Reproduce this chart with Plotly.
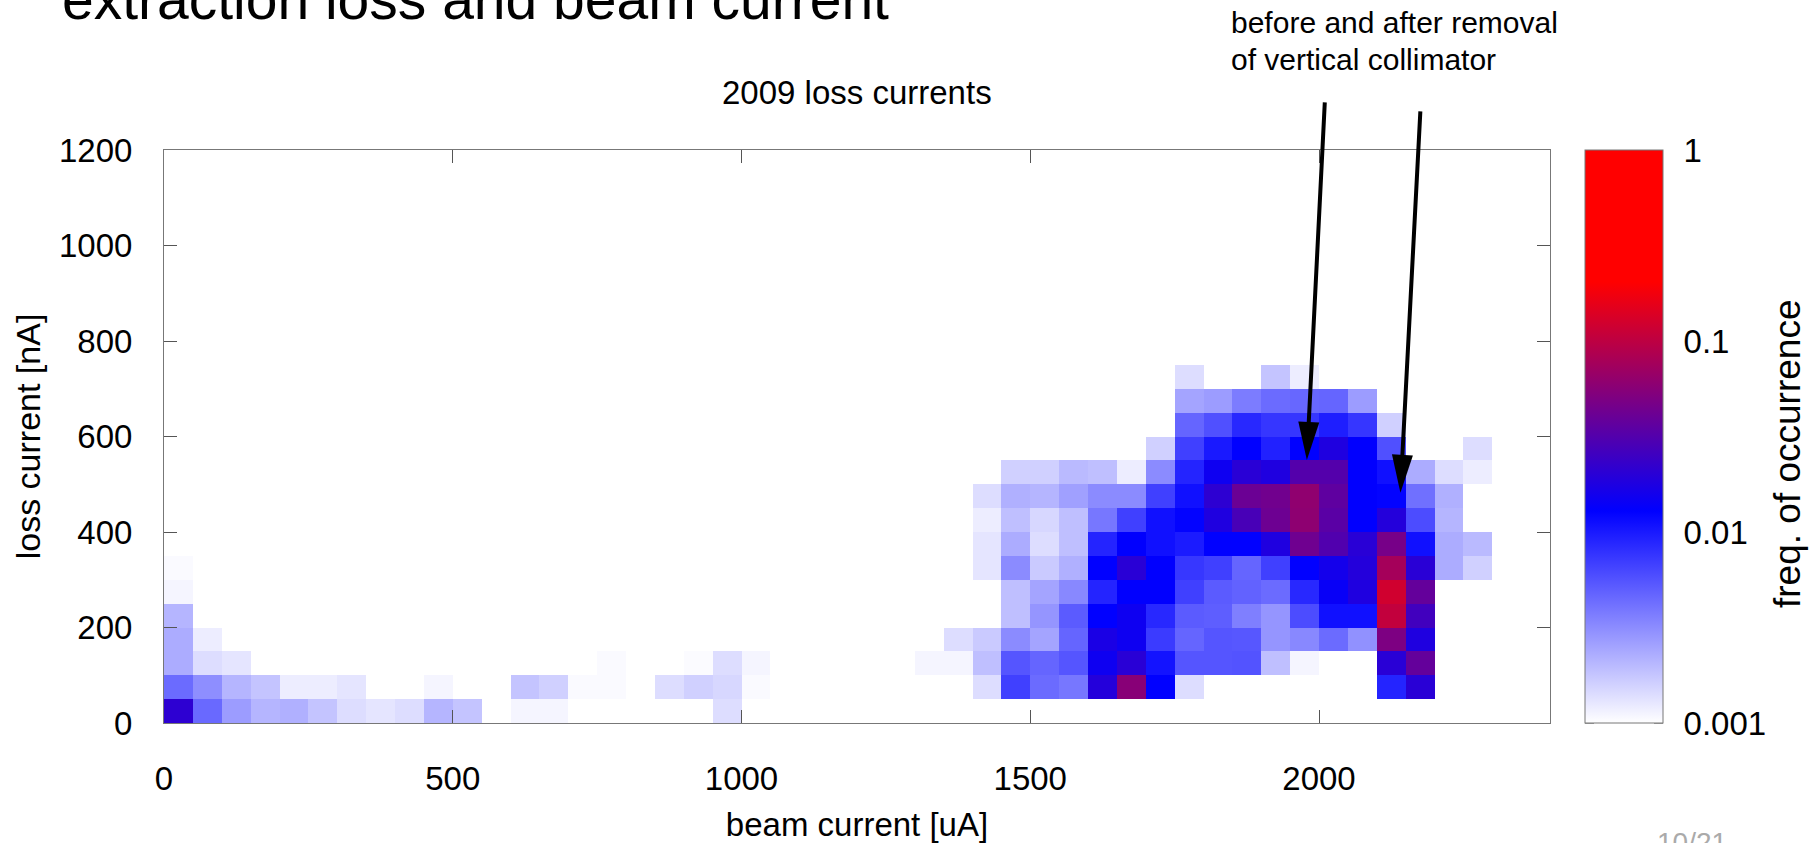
import math
import plotly.graph_objects as go

# ---------------- data ----------------
beam_edges = list(range(0, 2401, 50))   # beam current bin edges [uA]
loss_edges = list(range(0, 1201, 50))   # loss current bin edges [nA]

# frequency of occurrence, per loss-current bin (lower edge in nA),
# keyed by lower edge of the beam-current bin [uA]
freq_loss_0 = {0: 0.021, 50: 0.0045, 100: 0.0027, 150: 0.0021, 200: 0.0022, 250: 0.0018,
               300: 0.0014, 350: 0.0013, 400: 0.0014, 450: 0.0021, 500: 0.0018,
               600: 0.0011, 650: 0.0011, 950: 0.0014}
freq_loss_50 = {0: 0.0044, 50: 0.0031, 100: 0.0021, 150: 0.0018, 200: 0.0012, 250: 0.0012,
                300: 0.0013, 450: 0.0011, 600: 0.0018, 650: 0.0016, 700: 0.00105, 750: 0.00105,
                850: 0.0014, 900: 0.0016, 950: 0.0015, 1000: 0.00105,
                1400: 0.0014, 1450: 0.0068, 1500: 0.0044, 1550: 0.0039, 1600: 0.019,
                1650: 0.056, 1700: 0.0128, 1750: 0.0014, 2100: 0.009, 2150: 0.020}
freq_loss_100 = {0: 0.0023, 50: 0.0014, 100: 0.0013, 750: 0.00105, 900: 0.00104, 950: 0.0014,
                 1000: 0.0011, 1300: 0.0011, 1350: 0.0011, 1400: 0.0019, 1450: 0.0055,
                 1500: 0.0047, 1550: 0.0055, 1600: 0.015, 1650: 0.020, 1700: 0.0107,
                 1750: 0.0055, 1800: 0.0055, 1850: 0.0056, 1900: 0.0019, 1950: 0.0011,
                 2100: 0.020, 2150: 0.038}
freq_loss_150 = {0: 0.0023, 50: 0.0012, 1350: 0.0014, 1400: 0.0017, 1450: 0.0032, 1500: 0.0025,
                 1550: 0.0047, 1600: 0.017, 1650: 0.015, 1700: 0.0071, 1750: 0.0047,
                 1800: 0.0055, 1850: 0.0054, 1900: 0.0029, 1950: 0.0033, 2000: 0.0044,
                 2050: 0.0030, 2100: 0.050, 2150: 0.018}
freq_loss_200 = {0: 0.0021, 1450: 0.0019, 1500: 0.0029, 1550: 0.0052, 1600: 0.0128, 1650: 0.015,
                 1700: 0.0086, 1750: 0.0052, 1800: 0.0050, 1850: 0.0036, 1900: 0.0029,
                 1950: 0.0060, 2000: 0.011, 2050: 0.011, 2100: 0.105, 2150: 0.026}
freq_loss_250 = {0: 0.0011, 1450: 0.0019, 1500: 0.0025, 1550: 0.0033, 1600: 0.0090, 1650: 0.013,
                 1700: 0.013, 1750: 0.0068, 1800: 0.0052, 1850: 0.0048, 1900: 0.0044,
                 1950: 0.0086, 2000: 0.014, 2050: 0.018, 2100: 0.123, 2150: 0.038}
freq_loss_300 = {0: 0.00105, 1400: 0.0013, 1450: 0.0032, 1500: 0.0017, 1550: 0.0022, 1600: 0.0128,
                 1650: 0.020, 1700: 0.013, 1750: 0.0074, 1800: 0.0068, 1850: 0.0047,
                 1900: 0.0068, 1950: 0.0128, 2000: 0.016, 2050: 0.019, 2100: 0.077,
                 2150: 0.020, 2200: 0.0023, 2250: 0.0016}
freq_loss_350 = {1400: 0.0013, 1450: 0.0023, 1500: 0.0014, 1550: 0.0019, 1600: 0.0090, 1650: 0.013,
                 1700: 0.011, 1750: 0.0098, 1800: 0.0128, 1850: 0.0128, 1900: 0.018,
                 1950: 0.043, 2000: 0.031, 2050: 0.020, 2100: 0.047, 2150: 0.011,
                 2200: 0.0023, 2250: 0.0020}
freq_loss_400 = {1400: 0.0012, 1450: 0.0019, 1500: 0.0015, 1550: 0.0019, 1600: 0.0039, 1650: 0.0068,
                 1700: 0.011, 1750: 0.0125, 1800: 0.018, 1850: 0.028, 1900: 0.042,
                 1950: 0.060, 2000: 0.034, 2050: 0.013, 2100: 0.019, 2150: 0.0060,
                 2200: 0.0021}
freq_loss_450 = {1400: 0.0014, 1450: 0.0022, 1500: 0.0021, 1550: 0.0026, 1600: 0.0032, 1650: 0.0032,
                 1700: 0.0068, 1750: 0.011, 1800: 0.021, 1850: 0.041, 1900: 0.044,
                 1950: 0.061, 2000: 0.036, 2050: 0.013, 2100: 0.0125, 2150: 0.0042,
                 2200: 0.0022}
freq_loss_500 = {1450: 0.0016, 1500: 0.0016, 1550: 0.0020, 1600: 0.0019, 1650: 0.0012, 1700: 0.0032,
                 1750: 0.0090, 1800: 0.015, 1850: 0.020, 1900: 0.018, 1950: 0.032,
                 2000: 0.032, 2050: 0.013, 2100: 0.011, 2150: 0.0023, 2200: 0.0014,
                 2250: 0.0012}
freq_loss_550 = {1700: 0.0016, 1750: 0.0068, 1800: 0.010, 1850: 0.0128, 1900: 0.0093, 1950: 0.0128,
                 2000: 0.018, 2050: 0.013, 2100: 0.0058, 2250: 0.0014}
freq_loss_600 = {1750: 0.0047, 1800: 0.0058, 1850: 0.0086, 1900: 0.0075, 1950: 0.0075, 2000: 0.0095,
                 2050: 0.0075, 2100: 0.0016}
freq_loss_650 = {1750: 0.0025, 1800: 0.0027, 1850: 0.0037, 1900: 0.0044, 1950: 0.0046, 2000: 0.0047,
                 2050: 0.0027}
freq_loss_700 = {1750: 0.0014, 1900: 0.0018, 1950: 0.0012}

loss_rows = [(0, freq_loss_0), (50, freq_loss_50), (100, freq_loss_100), (150, freq_loss_150),
             (200, freq_loss_200), (250, freq_loss_250), (300, freq_loss_300),
             (350, freq_loss_350), (400, freq_loss_400), (450, freq_loss_450),
             (500, freq_loss_500), (550, freq_loss_550), (600, freq_loss_600),
             (650, freq_loss_650), (700, freq_loss_700)]

cbar_tick_values = [0.001, 0.01, 0.1, 1]
cbar_tick_labels = ["0.001", "0.01", "0.1", "1"]

# arrows: tip in data units, tail offset in pixels
arrow_tips = [(1979, 551), (2141, 482)]
arrow_tails_px = [(18, -359), (20, -383)]

# ---------------- build z (log10 of frequency) ----------------
z = [[None] * (len(beam_edges) - 1) for _ in range(len(loss_edges) - 1)]
for loss_lo, row in loss_rows:
    j = loss_edges.index(loss_lo)
    for beam_lo, f in row.items():
        i = beam_edges.index(beam_lo)
        z[j][i] = math.log10(f)

colorscale = [[0.0, "rgb(255,255,255)"], [0.37, "rgb(0,0,255)"],
              [0.77, "rgb(255,0,0)"], [1.0, "rgb(255,0,0)"]]

FONT = "Liberation Sans, Arial, sans-serif"

# plot-area geometry (pixels)
W, H = 1814, 843
L, R, T, B = 164, 264, 150, 120
PW, PH = W - L - R, H - T - B


def px_x(px):
    return (px - L) / PW


def px_y(py):
    return (H - B - py) / PH


cb_left_px = 1585
cb_thick = 78
cb_x0 = px_x(cb_left_px)
cb_x1 = px_x(cb_left_px + cb_thick)

fig = go.Figure()
fig.add_trace(go.Heatmap(
    x=beam_edges, y=loss_edges, z=z,
    zmin=-3, zmax=0, colorscale=colorscale, zsmooth=False,
    hoverongaps=False,
    colorbar=dict(
        x=cb_x0, xanchor="left", y=0.5, yanchor="middle",
        len=1, lenmode="fraction", thickness=cb_thick, thicknessmode="pixels",
        xpad=0, ypad=0, outlinewidth=1, outlinecolor="#777",
        tickvals=[math.log10(v) for v in cbar_tick_values], ticktext=cbar_tick_labels,
        ticks="outside", ticklen=14, tickcolor="rgba(0,0,0,0)",
        tickfont=dict(family=FONT, size=33, color="black"),
    ),
))

axis_common = dict(
    ticks="inside", ticklen=13, tickwidth=1, tickcolor="#555",
    showline=True, linecolor="#777", linewidth=1, mirror="ticks",
    showgrid=False, zeroline=False,
    tickfont=dict(family=FONT, size=33, color="black"),
)

fig.update_layout(
    width=W, height=H,
    margin=dict(l=L, r=R, t=T, b=B, autoexpand=False),
    paper_bgcolor="white", plot_bgcolor="white",
    font=dict(family=FONT, size=33, color="black"),
    xaxis=dict(range=[0, 2400], tickvals=[0, 500, 1000, 1500, 2000],
               ticklabelstandoff=26,
               title=dict(text="beam current [uA]", font=dict(family=FONT, size=33),
                          standoff=18),
               **axis_common),
    yaxis=dict(range=[0, 1200], tickvals=[0, 200, 400, 600, 800, 1000, 1200],
               ticklabelstandoff=24,
               title=dict(text="loss current [nA]", font=dict(family=FONT, size=34),
                          standoff=8),
               **axis_common),
)

# colorbar inside ticks on both sides (log minor ticks)
shapes = []
for d in range(-3, 0):
    for k in range(1, 10):
        v = k * 10 ** d
        yy = (math.log10(v) + 3) / 3
        ln = 9 if k == 1 else 5
        for x_edge, sgn in ((cb_x0, 1), (cb_x1, -1)):
            shapes.append(dict(type="line", xref="paper", yref="paper",
                               x0=x_edge, x1=x_edge + sgn * ln / PW, y0=yy, y1=yy,
                               line=dict(color="#444", width=1)))

annotations = []
# arrows: shaft as annotation, head as pixel-sized triangle
HEAD_L, HEAD_W = 38, 21
for (tx, ty), (dx, dy) in zip(arrow_tips, arrow_tails_px):
    annotations.append(dict(x=tx, y=ty, xref="x", yref="y", ax=dx, ay=dy,
                            axref="pixel", ayref="pixel", text="", showarrow=True,
                            arrowhead=0, arrowwidth=4, arrowcolor="black",
                            standoff=HEAD_L - 4))
    n = math.hypot(dx, dy)
    ux, uy = dx / n, -dy / n           # y-up pixel direction toward tail
    bx, by = ux * HEAD_L, uy * HEAD_L
    pxp, pyp = -uy * HEAD_W / 2, ux * HEAD_W / 2
    path = (f"M 0,0 L {bx + pxp:.2f},{by + pyp:.2f} "
            f"L {bx - pxp:.2f},{by - pyp:.2f} Z")
    shapes.append(dict(type="path", xref="x", yref="y", xsizemode="pixel",
                       ysizemode="pixel", xanchor=tx, yanchor=ty, path=path,
                       fillcolor="black", line=dict(width=0)))

annotations += [
    dict(text="extraction loss and beam current", xref="paper", yref="paper",
         x=px_x(60), y=px_y(-1), xanchor="left", yanchor="middle", showarrow=False,
         font=dict(family=FONT, size=57, color="black")),
    dict(text="2009 loss currents", xref="paper", yref="paper",
         x=0.5, y=px_y(92), xanchor="center", yanchor="middle", showarrow=False,
         font=dict(family=FONT, size=33, color="black")),
    dict(text="before and after removal", xref="paper", yref="paper",
         x=px_x(1229), y=px_y(23), xanchor="left", yanchor="middle", showarrow=False,
         font=dict(family=FONT, size=30, color="black")),
    dict(text="of vertical collimator", xref="paper", yref="paper",
         x=px_x(1229), y=px_y(60), xanchor="left", yanchor="middle", showarrow=False,
         font=dict(family=FONT, size=30, color="black")),
    dict(text="freq. of occurrence", xref="paper", yref="paper",
         x=px_x(1787), y=px_y(454), xanchor="center", yanchor="middle", showarrow=False,
         textangle=-90, font=dict(family=FONT, size=37, color="black")),
    dict(text="10/21", xref="paper", yref="paper",
         x=px_x(1692), y=px_y(842), xanchor="center", yanchor="middle", showarrow=False,
         font=dict(family=FONT, size=28, color="#aaaaaa")),
]

fig.update_layout(shapes=shapes, annotations=annotations)
fig.write_html("out.html")
